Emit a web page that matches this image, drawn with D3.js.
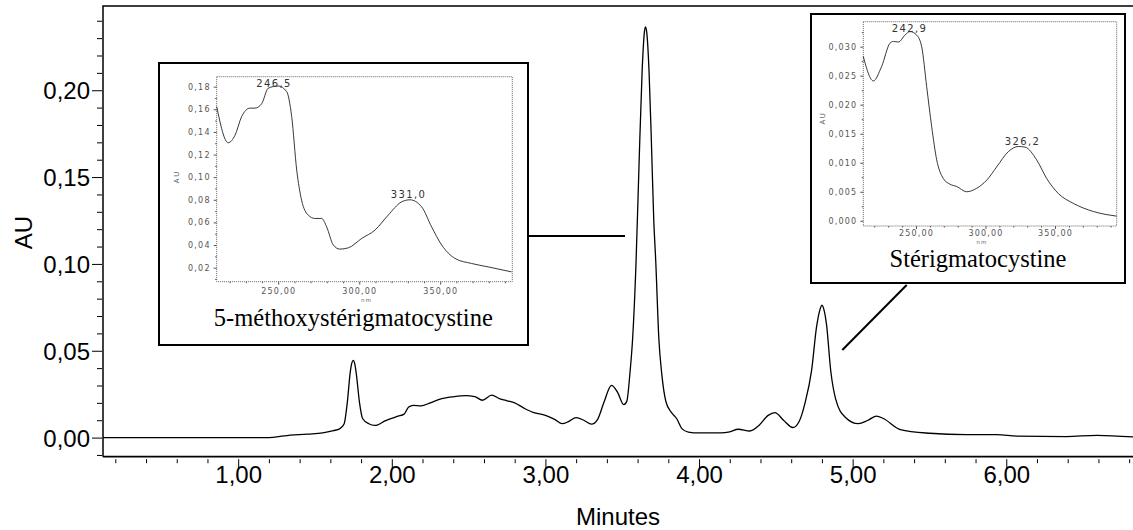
<!DOCTYPE html>
<html>
<head>
<meta charset="utf-8">
<script src="https://cdn.jsdelivr.net/npm/d3@7"></script>
<style>
  html, body { margin: 0; padding: 0; background: #fff; }
  svg { display: block; }
</style>
</head>
<body>
<div id="chart"></div>
<script>
/* =========================================
   HPLC chromatogram with two UV spectra insets
   ========================================= */

// Main trace (retention time in minutes, absorbance in AU)
const timeMin = [0.12, 1.2, 1.3, 1.45, 1.55, 1.62, 1.66, 1.69, 1.71, 1.73, 1.74, 1.75, 1.76, 1.77, 1.79, 1.81,
  1.85, 1.89, 1.96, 2.04, 2.08, 2.11, 2.14, 2.19, 2.25, 2.31, 2.4, 2.48, 2.54, 2.59, 2.65, 2.7, 2.75, 2.8,
  2.86, 2.92, 3.0, 3.06, 3.11, 3.15, 3.2, 3.25, 3.3, 3.34, 3.38, 3.43, 3.47, 3.51, 3.53, 3.55, 3.567, 3.59,
  3.61, 3.63, 3.645, 3.652, 3.66, 3.675, 3.69, 3.705, 3.718, 3.739, 3.757, 3.785, 3.82, 3.854, 3.89, 3.93,
  4.0, 4.14, 4.2, 4.255, 4.33, 4.39, 4.45, 4.494, 4.55, 4.61, 4.65, 4.689, 4.733, 4.765, 4.785, 4.8, 4.815,
  4.83, 4.857, 4.89, 4.95, 5.037, 5.1, 5.156, 5.2, 5.31, 5.5, 5.74, 5.94, 6.07, 6.39, 6.59, 6.825];
const absorbance = [0, 0, 0.001, 0.002, 0.0027, 0.004, 0.005, 0.008, 0.02, 0.038, 0.043, 0.0445, 0.042, 0.036, 0.02, 0.011,
  0.008, 0.007, 0.0098, 0.0123, 0.0135, 0.0176, 0.0186, 0.0183, 0.02, 0.022, 0.0235, 0.0242, 0.0236, 0.0215, 0.0245, 0.0225, 0.0212, 0.02,
  0.017, 0.0145, 0.0128, 0.0105, 0.008, 0.0092, 0.0115, 0.01, 0.0077, 0.0105, 0.02, 0.0301, 0.026, 0.019, 0.021, 0.0369, 0.056, 0.101,
  0.159, 0.212, 0.234, 0.2365, 0.233, 0.21, 0.17, 0.126, 0.102, 0.056, 0.037, 0.0205, 0.0145, 0.011, 0.005, 0.0032,
  0.0027, 0.0027, 0.0033, 0.0048, 0.0038, 0.007, 0.0128, 0.0144, 0.01, 0.0058, 0.009, 0.0196, 0.0388, 0.0637, 0.073, 0.0762, 0.073,
  0.065, 0.0388, 0.022, 0.0119, 0.008, 0.01, 0.0124, 0.011, 0.0046, 0.0025, 0.0017, 0.0017, 0.0008, 0.0006, 0.0013, 0.0004];

const xTicks = [1, 2, 3, 4, 5, 6];
const yTicks = [0, 0.05, 0.1, 0.15, 0.2];

// UV spectrum of 5-methoxysterigmatocystin
const nm1 = [212, 219.1, 223.3, 227.4, 232.5, 235.6, 239.8, 243.8, 250, 255.2, 258.3, 261.4, 264.4, 268.5, 272.6, 276.8,
  279.9, 284, 288.1, 293.2, 301.5, 309.7, 317.9, 326.2, 331.3, 338.5, 344.7, 350.9, 359.1, 369.4, 379.6, 394];
const au1 = [0.1623, 0.1304, 0.137, 0.1535, 0.161, 0.161, 0.165, 0.1786, 0.1806, 0.1756, 0.1535, 0.1063, 0.0797, 0.0665, 0.0635, 0.0635,
  0.056, 0.04, 0.0364, 0.0375, 0.0458, 0.0532, 0.0665, 0.0782, 0.08, 0.0738, 0.056, 0.04, 0.0282, 0.0237, 0.0207, 0.0163];
const yTicks1 = [0.02, 0.04, 0.06, 0.08, 0.1, 0.12, 0.14, 0.16, 0.18];
const peaks1 = ["246,5", "331,0"];

// UV spectrum of sterigmatocystin
const nm2 = [212.1, 219.3, 225.3, 231.3, 233.7, 237.3, 242.1, 245.7, 250.5, 254.1, 257.7, 261.3, 264.9, 269.6, 274.5,
  279.3, 286.5, 293.7, 300.9, 308.1, 316.4, 323.6, 328.4, 336.8, 344, 352.4, 363.2, 377.6, 394.4];
const au2 = [0.0283, 0.0241, 0.0266, 0.0306, 0.0309, 0.0308, 0.032, 0.0326, 0.032, 0.03, 0.0231, 0.0162, 0.0105, 0.0073, 0.0063,
  0.0059, 0.005, 0.0056, 0.007, 0.0093, 0.0119, 0.0128, 0.0127, 0.0105, 0.0073, 0.0047, 0.003, 0.0016, 0.0008];
const yTicks2 = [0, 0.005, 0.01, 0.015, 0.02, 0.025, 0.03];
const peaks2 = ["242,9", "326,2"];

const nmTicks = [250, 300, 350];

// French number format (comma decimal)
const fr = d3.formatLocale({ decimal: ",", thousands: ".", grouping: [3], currency: ["", " €"] });

const W = 1133, H = 530;
const svg = d3.select("#chart").append("svg").attr("width", W).attr("height", H);

// Scales
const x = d3.scaleLinear().domain([0.12, 6.825]).range([103, 1133]);
const y = d3.scaleLinear().domain([-0.011, 0.2485]).range([456.7, 6]);

const sans = "'Liberation Sans', Arial, Helvetica, sans-serif";

// Frame (left + top) and bottom axis line
svg.append("path")
  .attr("d", `M${x(0.12)},${y(-0.011)}V${y(0.2485)}H${W}`)
  .attr("fill", "none").attr("stroke", "#000").attr("stroke-width", 1.5);
svg.append("line")
  .attr("x1", x(0.12)).attr("x2", W)
  .attr("y1", y(-0.011)).attr("y2", y(-0.011))
  .attr("stroke", "#000").attr("stroke-width", 1.8);

// Y axis
const yMinor = d3.range(-0.01, 0.245, 0.01).filter((v) => Math.abs(Math.round(v * 100) % 5) !== 0);
svg.append("g")
  .attr("transform", `translate(${x(0.12) - 1},0)`)
  .call(d3.axisLeft(y).tickValues(yMinor).tickSize(5).tickFormat(""))
  .call((g) => g.select(".domain").remove());
svg.append("g")
  .attr("transform", `translate(${x(0.12) - 1},0)`)
  .call(d3.axisLeft(y).tickValues(yTicks).tickSize(10).tickPadding(2).tickFormat(fr.format(".2f")))
  .call((g) => g.select(".domain").remove())
  .call((g) => g.selectAll("text").attr("dy", "0.36em").style("font-family", sans).style("font-size", "24px").attr("fill", "#000"));

// X axis
const xMinor = d3.range(0.2, 6.81, 0.2).filter((v) => Math.abs(v - Math.round(v)) > 0.01);
svg.append("g")
  .attr("transform", `translate(0,${y(-0.011) + 2.5})`)
  .call(d3.axisBottom(x).tickValues(xMinor).tickSize(4).tickFormat(""))
  .call((g) => g.select(".domain").remove());
svg.append("g")
  .attr("transform", `translate(0,${y(-0.011) + 2.5})`)
  .call(d3.axisBottom(x).tickValues(xTicks).tickSize(9).tickFormat(fr.format(".2f")))
  .call((g) => g.select(".domain").remove())
  .call((g) => g.selectAll("text").attr("y", 24).attr("dy", null)
    .style("font-family", sans).style("font-size", "24px").attr("fill", "#000"));

// Axis titles
svg.append("text")
  .attr("x", (x(0.12) + W) / 2).attr("y", 525)
  .attr("text-anchor", "middle")
  .style("font-family", sans).style("font-size", "24px")
  .text("Minutes");
svg.append("text")
  .attr("transform", "translate(31.5,232.5) rotate(-90)")
  .attr("text-anchor", "middle")
  .style("font-family", sans).style("font-size", "24px")
  .text("AU");

// Chromatogram trace
const trace = timeMin.map((t, i) => [t, absorbance[i]]);
svg.append("path")
  .datum(trace)
  .attr("fill", "none")
  .attr("stroke", "#000")
  .attr("stroke-width", 1.3)
  .attr("d", d3.line().x((d) => x(d[0])).y((d) => y(d[1])).curve(d3.curveMonotoneX));

// Connector lines from insets to their peaks
svg.append("line").attr("x1", 528).attr("y1", 236).attr("x2", 625).attr("y2", 236)
  .attr("stroke", "#000").attr("stroke-width", 2);
svg.append("line").attr("x1", 906.7).attr("y1", 285).attr("x2", 842.3).attr("y2", 350)
  .attr("stroke", "#000").attr("stroke-width", 2);

// Inset spectrum
function drawInset(cfg) {
  const g = svg.append("g");

  g.append("rect")
    .attr("x", cfg.box[0]).attr("y", cfg.box[1])
    .attr("width", cfg.box[2] - cfg.box[0]).attr("height", cfg.box[3] - cfg.box[1])
    .attr("fill", "#fff").attr("stroke", "#000").attr("stroke-width", 2);

  const ix = d3.scaleLinear().domain(cfg.nmDomain).range([cfg.plot[0], cfg.plot[2]]);
  const iy = d3.scaleLinear().domain(cfg.auDomain).range([cfg.plot[3], cfg.plot[1]]);

  // dotted plot frame
  g.append("rect")
    .attr("x", cfg.plot[0]).attr("y", cfg.plot[1])
    .attr("width", cfg.plot[2] - cfg.plot[0]).attr("height", cfg.plot[3] - cfg.plot[1])
    .attr("fill", "none").attr("stroke", "#666").attr("stroke-width", 1)
    .attr("stroke-dasharray", "1,1");

  const tickStyle = (sel) => sel.selectAll("line").attr("stroke", "#555");
  const labelStyle = (sel) => sel.selectAll("text")
    .style("font-family", "'DejaVu Sans', sans-serif").style("font-size", "8px")
    .style("letter-spacing", "1.2px").attr("fill", "#555");

  // y ticks
  g.append("g")
    .attr("transform", `translate(${cfg.plot[0]},0)`)
    .call(d3.axisLeft(iy).tickValues(cfg.yMinor).tickSize(1.5).tickFormat(""))
    .call((s) => s.select(".domain").remove())
    .call(tickStyle);
  g.append("g")
    .attr("transform", `translate(${cfg.plot[0]},0)`)
    .call(d3.axisLeft(iy).tickValues(cfg.yTicks).tickSize(3).tickPadding(3).tickFormat(fr.format(cfg.yFmt)))
    .call((s) => s.select(".domain").remove())
    .call(tickStyle).call(labelStyle);

  // x ticks
  g.append("g")
    .attr("transform", `translate(0,${cfg.plot[3]})`)
    .call(d3.axisBottom(ix).tickValues(d3.range(220, 395, 10).filter((v) => v % 50 !== 0)).tickSize(1.5).tickFormat(""))
    .call((s) => s.select(".domain").remove())
    .call(tickStyle);
  g.append("g")
    .attr("transform", `translate(0,${cfg.plot[3]})`)
    .call(d3.axisBottom(ix).tickValues(nmTicks).tickSize(3).tickFormat(fr.format(".2f")))
    .call((s) => s.select(".domain").remove())
    .call(tickStyle).call(labelStyle)
    .call((s) => s.selectAll("text").attr("y", cfg.xLabelY).attr("dy", null));

  // axis titles
  g.append("text")
    .attr("x", cfg.nmPos[0]).attr("y", cfg.nmPos[1])
    .attr("text-anchor", "middle")
    .style("font-family", "'DejaVu Sans', sans-serif").style("font-size", "5.5px")
    .style("letter-spacing", "1px").attr("fill", "#666")
    .text("nm");
  g.append("text")
    .attr("transform", `translate(${cfg.auPos[0]},${cfg.auPos[1]}) rotate(-90)`)
    .attr("text-anchor", "middle")
    .style("font-family", "'DejaVu Sans', sans-serif").style("font-size", "7px")
    .style("letter-spacing", "1.5px").attr("fill", "#666")
    .text("AU");

  // spectrum
  g.append("path")
    .datum(cfg.nm.map((n, i) => [n, cfg.au[i]]))
    .attr("fill", "none").attr("stroke", "#222").attr("stroke-width", 0.9)
    .attr("d", d3.line().x((d) => ix(d[0])).y((d) => iy(d[1])).curve(d3.curveMonotoneX));

  // peak labels
  cfg.peakPos.forEach((p, i) => {
    g.append("text")
      .attr("x", p[0]).attr("y", p[1])
      .attr("text-anchor", "middle")
      .style("font-family", "'DejaVu Sans', sans-serif").style("font-size", "10px")
      .style("letter-spacing", "1.4px").attr("fill", "#333")
      .text(cfg.peaks[i]);
  });

  // compound name
  g.append("text")
    .attr("x", cfg.namePos[0]).attr("y", cfg.namePos[1])
    .attr("text-anchor", "middle")
    .style("font-family", "'Liberation Serif', 'Times New Roman', serif").style("font-size", "24.5px")
    .attr("fill", "#000")
    .text(cfg.name);
}

drawInset({
  box: [159, 63, 528, 345],
  plot: [216.7, 76.7, 512.3, 281.7],
  nmDomain: [212, 394.5],
  auDomain: [0.0076, 0.1888],
  yTicks: yTicks1,
  yMinor: d3.range(0.01, 0.19, 0.01).filter((v) => Math.round(v * 100) % 2 !== 0),
  yFmt: ".2f",
  xLabelY: 12.3,
  nmPos: [366.5, 301.5],
  auPos: [178.5, 176.7],
  nm: nm1,
  au: au1,
  peaks: peaks1,
  peakPos: [[274, 87.3], [408.5, 197.7]],
  name: "5-méthoxystérigmatocystine",
  namePos: [353.3, 325.5]
});

drawInset({
  box: [811, 14, 1125, 283],
  plot: [863.3, 21.7, 1116.7, 226],
  nmDomain: [212.1, 394.4],
  auDomain: [-0.0009, 0.0343],
  yTicks: yTicks2,
  yMinor: d3.range(0.0025, 0.0335, 0.005),
  yFmt: ".3f",
  xLabelY: 9.7,
  nmPos: [982, 244],
  auPos: [824.5, 118],
  nm: nm2,
  au: au2,
  peaks: peaks2,
  peakPos: [[909.5, 32.3], [1022.5, 145]],
  name: "Stérigmatocystine",
  namePos: [978, 267]
});
</script>
</body>
</html>
